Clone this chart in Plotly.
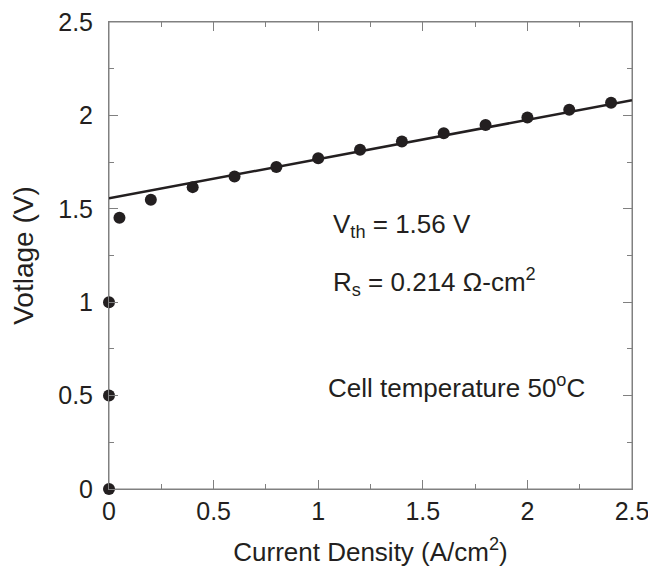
import plotly.graph_objects as go

current_density = [0, 0, 0, 0.05, 0.2, 0.4, 0.6, 0.8, 1.0, 1.2, 1.4, 1.6, 1.8, 2.0, 2.2, 2.4]
voltage = [0.0, 0.5, 1.0, 1.452, 1.548, 1.616, 1.673, 1.724, 1.771, 1.816, 1.860, 1.905, 1.948, 1.989, 2.030, 2.068]

fit_x = [0.0, 2.5]
fit_y = [1.556, 2.081]

x_ticks = [0, 0.5, 1, 1.5, 2, 2.5]
x_ticklabels = ["0", "0.5", "1", "1.5", "2", "2.5"]
y_ticks = [0, 0.5, 1, 1.5, 2, 2.5]
y_ticklabels = ["0", "0.5", "1", "1.5", "2", "2.5"]

FONT = "Liberation Sans, Arial, Helvetica, sans-serif"
AXC = "#808080"
TXT = "#231f20"

fig = go.Figure()
fig.add_trace(go.Scatter(x=fit_x, y=fit_y, mode="lines",
                         line=dict(color=TXT, width=2.5), showlegend=False,
                         cliponaxis=False))
fig.add_trace(go.Scatter(x=current_density, y=voltage, mode="markers",
                         marker=dict(color=TXT, size=12), showlegend=False,
                         cliponaxis=False))

axis_common = dict(
    showgrid=False, zeroline=False, showline=True, linecolor=AXC, linewidth=1,
    mirror="ticks", ticks="inside", ticklen=9, tickcolor=AXC, tickwidth=1,
    tickfont=dict(family=FONT, size=25, color=TXT),
    minor=dict(ticks="inside", ticklen=5, tickcolor=AXC, dtick=0.25, showgrid=False),
    automargin=False, ticklabeloverflow="allow",
)

fig.update_xaxes(range=[0, 2.5], tickvals=x_ticks, ticktext=x_ticklabels,
                 ticklabelstandoff=0,
                 title=dict(text="Current Density (A/cm<sup>2</sup>)",
                            font=dict(family=FONT, size=26, color=TXT), standoff=18),
                 **axis_common)
fig.update_yaxes(range=[0, 2.5], tickvals=y_ticks, ticktext=y_ticklabels,
                 ticklabelstandoff=10,
                 title=dict(text="Votlage (V)",
                            font=dict(family=FONT, size=28, color=TXT), standoff=16),
                 **axis_common)

# plot frame (guarantees the top/right edges are drawn)
fig.add_shape(type="rect", xref="x domain", yref="y domain", x0=0, x1=1, y0=0, y1=1,
              line=dict(color=AXC, width=1), fillcolor="rgba(0,0,0,0)", layer="below")

ann_font = dict(family=FONT, size=26, color=TXT)
fig.add_annotation(x=1.062, y=1.41, xref="x", yref="y", text="V<sub>th</sub> = 1.56 V",
                   showarrow=False, xanchor="left", yanchor="middle", font=ann_font)
fig.add_annotation(x=1.062, y=1.11, xref="x", yref="y", text="R<sub>s</sub> = 0.214 Ω-cm<sup>2</sup>",
                   showarrow=False, xanchor="left", yanchor="middle", font=ann_font)
fig.add_annotation(x=1.035, y=0.55, xref="x", yref="y", text="Cell temperature 50<sup>o</sup>C",
                   showarrow=False, xanchor="left", yanchor="middle", font=ann_font)

fig.update_layout(
    width=648, height=561,
    margin=dict(l=101, r=24, t=14, b=80),
    plot_bgcolor="white", paper_bgcolor="white",
)

fig.write_html("out.html")
